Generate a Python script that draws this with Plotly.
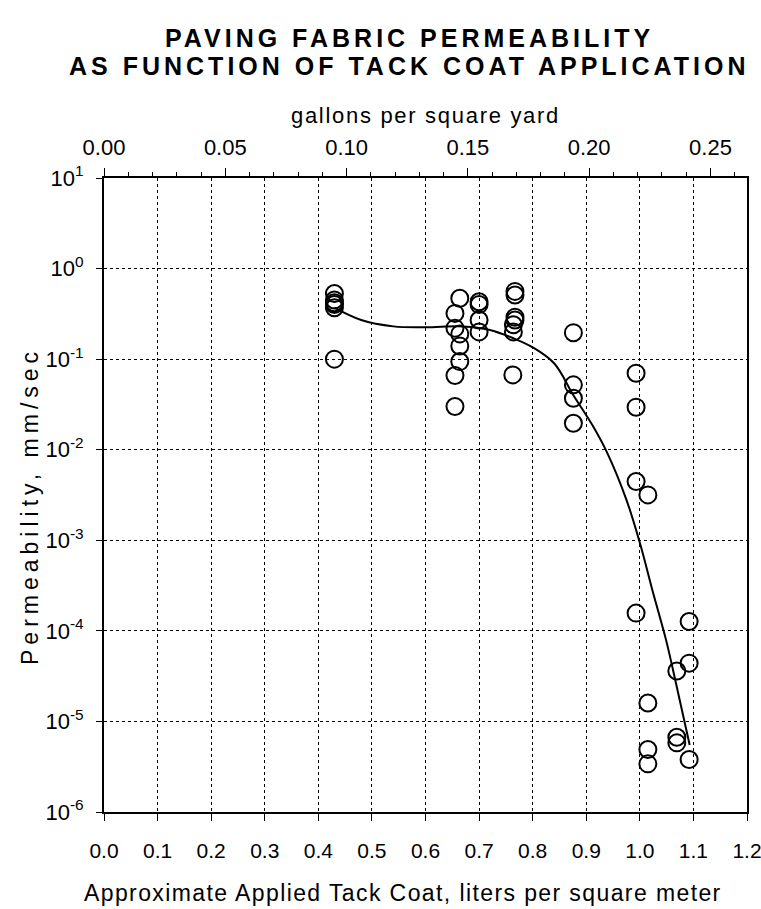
import plotly.graph_objects as go

# ---- data ----
tack_lpsm = [0.43, 0.43, 0.43, 0.43, 0.43, 0.43,
             0.664, 0.655, 0.655, 0.664, 0.664, 0.664, 0.655, 0.655,
             0.70, 0.70, 0.70, 0.70,
             0.767, 0.767, 0.767, 0.767, 0.764, 0.764, 0.763,
             0.876, 0.876, 0.876, 0.876,
             0.993, 0.993, 0.993, 1.015, 0.993, 1.015, 1.015, 1.015,
             1.092, 1.092, 1.069, 1.069, 1.069, 1.092]
permeability = [0.53, 0.45, 0.42, 0.40, 0.37, 0.10,
                0.47, 0.32, 0.22, 0.19, 0.14, 0.094, 0.066, 0.030,
                0.43, 0.40, 0.27, 0.20,
                0.56, 0.51, 0.29, 0.27, 0.24, 0.20, 0.067,
                0.196, 0.052, 0.037, 0.0196,
                0.070, 0.0295, 0.00445, 0.00317, 0.000157, 1.6e-5, 4.9e-6, 3.4e-6,
                0.000127, 4.4e-5, 3.6e-5, 6.7e-6, 5.8e-6, 3.8e-6]

curve_x = [0.43, 0.48, 0.54, 0.60, 0.67, 0.72, 0.764, 0.80, 0.84, 0.876,
           0.913, 0.94, 0.975, 1.0, 1.025, 1.049, 1.069, 1.093]
curve_y = [0.37, 0.27, 0.23, 0.225, 0.23, 0.21, 0.17, 0.135, 0.09, 0.04,
           0.018, 0.0090, 0.0028, 0.00094, 0.00026, 7.9e-5, 2.4e-5, 5.5e-6]

x_ticks = [0.0, 0.1, 0.2, 0.3, 0.4, 0.5, 0.6, 0.7, 0.8, 0.9, 1.0, 1.1, 1.2]
gal_ticks = [0.00, 0.05, 0.10, 0.15, 0.20, 0.25]
gal_tick_text = ["0.00", "0.05", "0.10", "0.15", "0.20", "0.25"]
y_ticks = [1e-6, 1e-5, 1e-4, 1e-3, 1e-2, 1e-1, 1e0, 1e1]
y_tick_text = ["10<sup>-6</sup>", "10<sup>-5</sup>", "10<sup>-4</sup>", "10<sup>-3</sup>",
               "10<sup>-2</sup>", "10<sup>-1</sup>", "10<sup>0</sup>", "10<sup>1</sup>"]
L_PER_M2_PER_GAL_PER_YD2 = 4.5273

title_lines = ["PAVING FABRIC PERMEABILITY", "AS FUNCTION OF TACK COAT APPLICATION"]
x_title = "Approximate Applied Tack Coat, liters per square meter"
x2_title = "gallons per square yard"
y_title = "Permeability, mm/sec"

FONT = "Liberation Sans"
PLOT_BOTTOM = 812   # page pixel row of the x axis
PLOT_H = 634        # plot area height (px)
PLOT_LEFT = 104
PLOT_W = 643


def py(y_px):
    return (PLOT_BOTTOM - y_px) / PLOT_H


def px(x_px):
    return (x_px - PLOT_LEFT) / PLOT_W


def spaced(text, sp):
    return f'<span style="letter-spacing:{sp}px">{text}</span>'


fig = go.Figure()
fig.add_trace(go.Scatter(x=curve_x, y=curve_y, mode="lines",
                         line=dict(color="black", width=2, shape="spline", smoothing=1),
                         showlegend=False, hoverinfo="skip"))
fig.add_trace(go.Scatter(x=tack_lpsm, y=permeability, mode="markers",
                         marker=dict(symbol="circle-open", size=17, color="black",
                                     line=dict(width=2, color="black")),
                         showlegend=False))
# invisible trace to activate the top axis
fig.add_trace(go.Scatter(x=[0], y=[1], xaxis="x2", mode="markers",
                         marker=dict(opacity=0), showlegend=False, hoverinfo="skip"))

fig.update_layout(
    width=761, height=909, autosize=False,
    margin=dict(l=104, r=14, t=178, b=97, autoexpand=False),
    plot_bgcolor="white", paper_bgcolor="white",
    font=dict(family=FONT, color="black", size=22),
    xaxis=dict(range=[0, 1.2], tickvals=x_ticks, tickformat=".1f", automargin=False,
               ticks="outside", ticklen=7, tickwidth=1, tickcolor="black",
               showline=True, linewidth=2, linecolor="black", mirror=True,
               showgrid=True, gridcolor="black", griddash="dot", gridwidth=1,
               zeroline=False, tickfont=dict(size=21), ticklabelstandoff=12,
               ticklabeloverflow="allow"),
    xaxis2=dict(overlaying="x", side="top", automargin=False,
                range=[0, 1.2 / L_PER_M2_PER_GAL_PER_YD2],
                tickvals=gal_ticks, ticktext=gal_tick_text,
                ticks="outside", ticklen=8, tickwidth=1, tickcolor="black",
                minor=dict(dtick=0.01, ticks="outside", ticklen=4, tickwidth=1, tickcolor="black"),
                showline=True, linewidth=2, linecolor="black",
                showgrid=False, zeroline=False, tickfont=dict(size=22),
                ticklabelstandoff=4, ticklabeloverflow="allow",
                title=dict(text=spaced(x2_title, 1.7), font=dict(size=22), standoff=6)),
    yaxis=dict(type="log", range=[-6, 1], tickvals=y_ticks, ticktext=y_tick_text,
               automargin=False,
               ticks="outside", ticklen=6, tickwidth=1, tickcolor="black",
               showline=True, linewidth=2, linecolor="black", mirror=True,
               showgrid=True, gridcolor="black", griddash="dot", gridwidth=1,
               zeroline=False, tickfont=dict(size=22), ticklabelstandoff=8),
    annotations=[
        dict(text="<b>" + spaced(title_lines[0], 4) + "</b>",
             xref="paper", yref="paper", x=px(409), y=py(38),
             xanchor="center", yanchor="middle", showarrow=False,
             font=dict(size=25, family=FONT)),
        dict(text="<b>" + spaced(title_lines[1], 4) + "</b>",
             xref="paper", yref="paper", x=px(409), y=py(66),
             xanchor="center", yanchor="middle", showarrow=False,
             font=dict(size=25, family=FONT)),
        dict(text=spaced(x_title, 1.4),
             xref="paper", yref="paper", x=px(403), y=py(893),
             xanchor="center", yanchor="middle", showarrow=False,
             font=dict(size=23, family=FONT)),
        dict(text=spaced(y_title, 5), textangle=-90,
             xref="paper", yref="paper", x=px(30), y=py(506),
             xanchor="center", yanchor="middle", showarrow=False,
             font=dict(size=23, family=FONT)),
    ],
)

post = ("document.body.style.margin='0';"
        "document.documentElement.style.overflow='hidden';"
        "var gd=document.getElementById('{plot_id}');"
        "if(gd){gd.style.overflow='hidden';}")
fig.write_html("out.html", post_script=post, config={"displayModeBar": False})
